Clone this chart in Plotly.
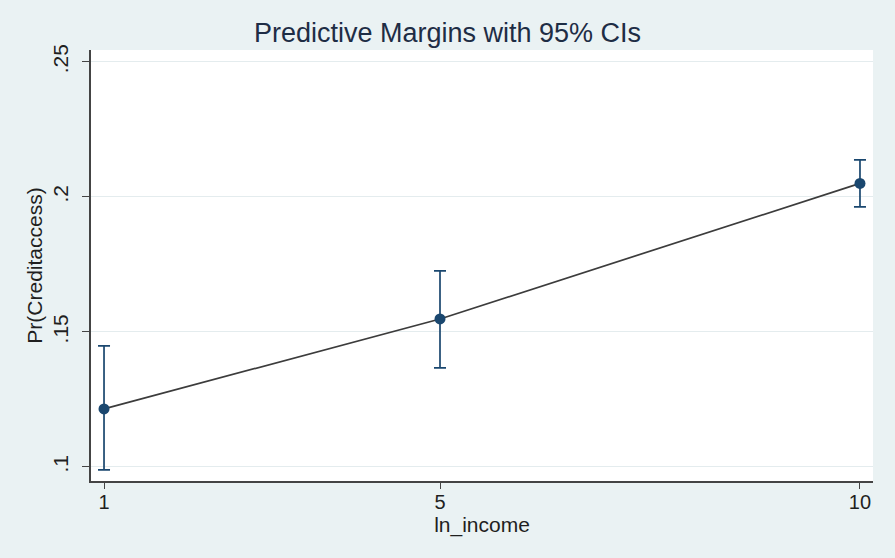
import plotly.graph_objects as go

# Predictive margins of credit access by log income, with 95% confidence intervals
ln_income = [1, 5, 10]
margin = [0.1215, 0.1548, 0.2050]
ci_upper = [0.1448, 0.1726, 0.2137]
ci_lower = [0.0989, 0.1367, 0.1963]

y_ticks = [0.1, 0.15, 0.2, 0.25]
y_tick_labels = [".1", ".15", ".2", ".25"]
x_ticks = [1, 5, 10]

navy = "#1a476f"
bg = "#eaf2f3"
text_color = "#1f1f1f"

err_plus = [u - m for u, m in zip(ci_upper, margin)]
err_minus = [m - l for m, l in zip(margin, ci_lower)]

fig = go.Figure()
fig.add_trace(go.Scatter(
    x=ln_income, y=margin,
    mode="lines+markers",
    line=dict(color="#3c3c3c", width=1.7),
    marker=dict(color=navy, size=11),
    error_y=dict(type="data", array=err_plus, arrayminus=err_minus,
                 color=navy, thickness=1.7, width=6),
    showlegend=False,
))

font_family = "Liberation Sans, Arial, sans-serif"

fig.update_layout(
    width=895, height=558,
    paper_bgcolor=bg, plot_bgcolor="white",
    margin=dict(l=91, r=22, t=50, b=77),
    font=dict(family=font_family, size=20, color=text_color),
    title=dict(text="Predictive Margins with 95% CIs", x=0.5, xanchor="center",
               xref="container", y=0.942, yanchor="middle",
               font=dict(size=27, color="#1e2d45", family=font_family)),
)

fig.update_xaxes(
    range=[0.845, 10.155],
    tickvals=x_ticks, ticktext=[str(v) for v in x_ticks],
    showgrid=False, zeroline=False,
    showline=True, linecolor="#444444", linewidth=1.5,
    ticks="outside", ticklen=6, tickcolor="#444444", tickwidth=1.2,
    tickfont=dict(size=20, color=text_color),
    ticklabelstandoff=-4,
    title=dict(text="ln_income", standoff=0, font=dict(size=21, color=text_color)),
)

fig.update_yaxes(
    range=[0.0948, 0.2544],
    tickvals=y_ticks, ticktext=y_tick_labels, tickangle=-90,
    showgrid=True, gridcolor="#e4ecee", gridwidth=1, zeroline=False,
    showline=True, linecolor="#444444", linewidth=1.5,
    ticks="outside", ticklen=7, tickcolor="#444444", tickwidth=1.2,
    tickfont=dict(size=21, color=text_color),
    ticklabelstandoff=6,
    title=dict(text="Pr(Creditaccess)", standoff=0, font=dict(size=21, color=text_color)),
)

fig.write_html("out.html")
